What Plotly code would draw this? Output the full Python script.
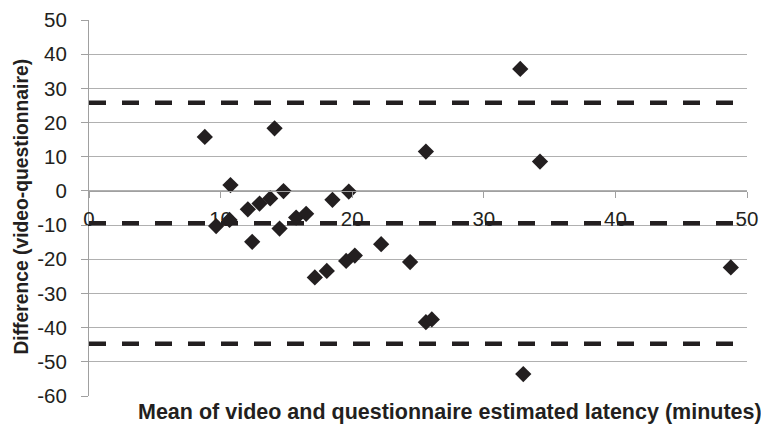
import plotly.graph_objects as go

# Data
mean_latency = [8.8, 14.1, 10.75, 12.07, 12.96, 13.77, 14.78, 9.66, 10.68, 12.4,
                14.48, 15.74, 16.5, 18.5, 19.74, 17.16, 18.07, 19.54, 20.2, 22.2,
                32.77, 25.6, 34.27, 24.4, 48.77, 25.6, 26.05, 33.0]
difference = [15.8, 18.3, 1.7, -5.4, -3.7, -2.2, -0.05, -10.3, -8.5, -14.9,
              -11.0, -7.8, -6.7, -2.6, -0.2, -25.3, -23.4, -20.5, -18.9, -15.6,
              35.7, 11.5, 8.6, -20.8, -22.4, -38.4, -37.6, -53.6]
limit_lines = [25.8, -9.45, -44.7]   # upper LoA, mean difference, lower LoA
x_ticks = [0, 10, 20, 30, 40, 50]
y_ticks = [50, 40, 30, 20, 10, 0, -10, -20, -30, -40, -50, -60]

INK = "#231f20"
GRID = "#b0b0b0"
AXIS = "#a0a0a0"
FONT = "Liberation Sans, Arial, sans-serif"

fig = go.Figure()

for v in limit_lines:
    fig.add_trace(go.Scatter(
        x=[x_ticks[0], x_ticks[-1]], y=[v, v], mode="lines",
        line=dict(color=INK, width=4.5, dash="17px,16px"),
        hoverinfo="skip", showlegend=False))

fig.add_trace(go.Scatter(
    x=mean_latency, y=difference, mode="markers",
    marker=dict(symbol="diamond", size=12.5, color=INK, line=dict(width=0)),
    showlegend=False))

# The page body has an 8px default margin, so the figure is sized to fill
# the remaining 761x416 of the 769x424 window.
fig.update_layout(
    width=761, height=416,
    margin=dict(l=81, r=22, t=12, b=28, pad=0, autoexpand=False),
    paper_bgcolor="white", plot_bgcolor="white",
    font=dict(family=FONT, size=18, color=INK),
    xaxis=dict(
        range=[0, 50], tickvals=x_ticks, ticktext=[str(t) for t in x_ticks],
        showgrid=False, zeroline=False, automargin=False,
        showline=True, linecolor=AXIS, linewidth=1.2,
        ticks="outside", ticklen=6, tickcolor=AXIS, tickwidth=1.2,
        anchor="free", position=60 / 110,
        ticklabelstandoff=3,
        tickfont=dict(family=FONT, size=20.5, color=INK),
    ),
    yaxis=dict(
        range=[-60, 50], tickvals=y_ticks, ticktext=[str(t) for t in y_ticks],
        showgrid=True, gridcolor=GRID, gridwidth=1.2, zeroline=False,
        automargin=False,
        showline=True, linecolor=AXIS, linewidth=1.2,
        ticks="outside", ticklen=7, tickcolor=AXIS, tickwidth=1.2,
        ticklabelstandoff=10,
        tickfont=dict(family=FONT, size=20.5, color=INK),
        domain=[0, 1],
    ),
    annotations=[
        dict(text="<b>Difference (video-questionnaire)</b>", textangle=-90,
             xref="paper", yref="paper", x=-0.1026, y=0.505,
             xanchor="center", yanchor="middle", showarrow=False,
             font=dict(family=FONT, size=19.3, color=INK)),
        dict(text="<b>Mean of video and questionnaire estimated latency (minutes)</b>",
             xref="paper", yref="paper", x=0.548, y=-0.043,
             xanchor="center", yanchor="middle", showarrow=False,
             font=dict(family=FONT, size=21.5, color=INK)),
    ],
)

fig.write_html("out.html")
